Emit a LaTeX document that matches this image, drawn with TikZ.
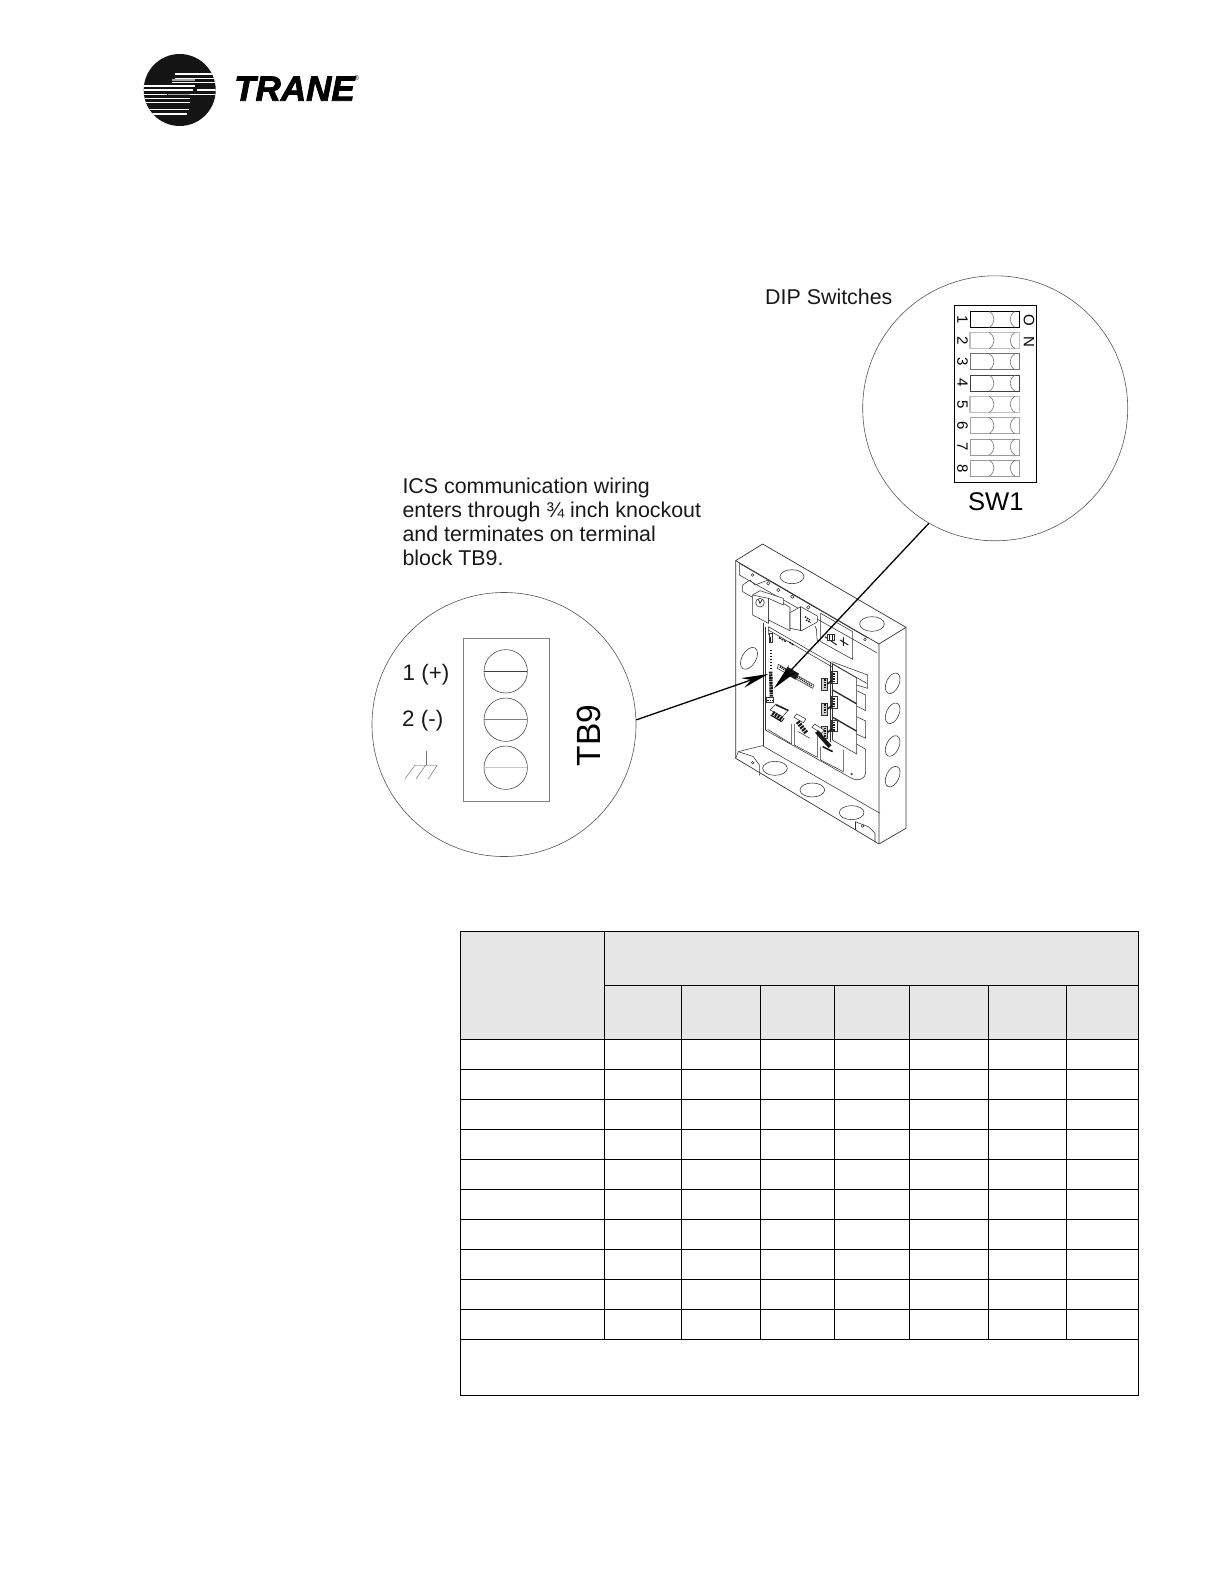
\documentclass[tikz,border=0pt]{standalone}
\usepackage{fontspec}
\setmainfont{Liberation Sans}
\newfontfamily\tranefont[BoldItalicFeatures={FakeBold=2.2}]{Liberation Sans}
\usetikzlibrary{arrows.meta}
\definecolor{hdr}{HTML}{E6E6E6}
\definecolor{thinc}{HTML}{555555}
\tikzset{
  txt/.style={inner sep=0pt,anchor=base west,font=\fontsize{21.4pt}{24pt}\selectfont,text=black!90},
  zoomc/.style={circle,draw=thinc,line width=0.6pt,minimum size=#1,inner sep=0pt},
  callout/.style={line width=1.3pt,-{Stealth[length=27pt,width=10pt]}},
  tline/.style={line width=1.3pt,black},
  wire/.style={line width=0.55pt,black!80},
  dark/.style={line width=1.6pt,black!90},
  screwc/.style={draw=black!70,line width=0.6pt},
  swbox/.style={line width=0.6pt,draw=black!55},
  knock/.style={wire,fill=white},
}
\begin{document}
\begin{tikzpicture}[x=1pt,y=-1pt]
\useasboundingbox (0,0) rectangle (1224,1584);
% ---- logo
\fill[black!92] (179.7,90) circle (36);
\begin{scope}
\clip (179.7,90) circle (36);
\begin{scope}[shift={(140pt,-50pt)},x=0.3333pt,y=-0.3333pt]
\foreach \yy/\xa/\xb in {72/105/218,85/105/225,97/95/228,108/5/165,120/5/160,120/172/230,133/5/80,133/150/230,145/5/150,158/15/150,178/20/148,192/30/140}
  \draw[white,line width=1.5pt] (\xa,\yy) -- (\xb,\yy);
\draw[black!35,line width=1.6pt] (95,90) -- (165,90);
\draw[black!35,line width=1.6pt] (85,133) -- (150,133);
\end{scope}
\end{scope}
\node[inner sep=0pt,anchor=base west] (tranelogo) at (234,100.7) {\tranefont\fontsize{35pt}{35pt}\selectfont\bfseries\itshape TRANE};
\node[inner sep=0pt] (tranereg) at (356.5,78.5) {\fontsize{7pt}{7pt}\selectfont ®};
% ---- zoom circles
\node[zoomc=264pt] (tbcircle) at (504,724.5) {};
\node[zoomc=265pt] (swcircle) at (995.2,408.3) {};
% ---- labels
\node[txt] (diplabel) at (765,304.3) {DIP Switches};
\node[txt] (ics1) at (402.3,493.3) {ICS communication wiring};
\node[txt] (ics2) at (402.3,517.5) {enters through ¾ inch knockout};
\node[txt] (ics3) at (402.3,541.3) {and terminates on terminal};
\node[txt] (ics4) at (402.3,565.3) {block TB9.};
\node[txt,font=\fontsize{22.4pt}{24pt}\selectfont] (plus) at (402.5,680) {1 (+)};
\node[txt,font=\fontsize{22.4pt}{24pt}\selectfont] (minus) at (402,726.7) {2 (-)};
\node[inner sep=0pt,rotate=90,font=\fontsize{33.5pt}{34pt}\selectfont] (tbnine) at (589,735.5) {TB9};
\node[inner sep=0pt,font=\fontsize{25.6pt}{26pt}\selectfont] (swone) at (995.8,501.7) {SW1};
% ---- TB9 block
\draw[line width=0.8pt,black!50] (463.3,638.3) rectangle (549.3,801);
\foreach \cy/\col/\lw in {671.3/black!75/0.9pt,719.7/black!50/0.7pt,767.7/black!22/1.5pt}{
  \draw[screwc] (505.7,\cy) circle (21.7);
  \draw[draw=\col,line width=\lw] (484,\cy) -- (527.4,\cy);
}
\draw[black!55,line width=0.5pt] (426.7,751) -- (426.7,765);
\draw[black!25,line width=1pt] (415,765) -- (437.3,765);
\draw[black!55,line width=0.5pt] (415,765) -- (405,779) (425.7,765) -- (416,779) (437.3,765) -- (428.3,779);
% ---- DIP switch
\draw[line width=0.9pt,black] (954.3,305.3) rectangle (1036.7,482.3);
\foreach \n/\col/\lw in {1/black/0.9pt,2/black!25/1.2pt,3/black!55/0.7pt,4/black!75/0.7pt,5/black!25/1.2pt,6/black!35/0.9pt,7/black!40/0.7pt,8/black!40/0.7pt}{
  \pgfmathsetmacro{\yt}{311.3+(\n-1)*21.27}
  \draw[draw=\col,line width=\lw] (970,\yt) rectangle (1019.3,\yt+16);
  \draw[swbox] (989.3,\yt) .. controls (995.5,\yt+4) and (995.5,\yt+12) .. (989.3,\yt+16);
  \draw[swbox] (1015,\yt) .. controls (1008.5,\yt+4) and (1008.5,\yt+12) .. (1015,\yt+16);
  \node[inner sep=0pt,rotate=-90,font=\fontsize{15pt}{15pt}\selectfont] (dip\n) at (962.5,\yt+8) {\n};
}
\node[inner sep=0pt,rotate=-90,font=\fontsize{15pt}{15pt}\selectfont] (onlabel) at (1029,331) {O\hspace{10pt}N};
% ---- table
\fill[hdr] (460.7,931.3) rectangle (1138.3,1039.3);
\foreach \yy in {931.3,1039.3,1069.3,1099.3,1129.3,1159.3,1189.3,1219.3,1249.3,1279.3,1309.3,1339.3,1395.7}
  \draw[tline] (460.7,\yy) -- (1138.3,\yy);
\draw[tline] (604.4,985.3) -- (1138.3,985.3);
\draw[tline] (460.7,931.3) -- (460.7,1395.7);
\draw[tline] (1138.3,931.3) -- (1138.3,1395.7);
\draw[tline] (604.4,931.3) -- (604.4,1339.3);
\foreach \xx in {681.5,760.5,834.4,909.7,988.7,1066.3}
  \draw[tline] (\xx,985.3) -- (\xx,1339.3);
% ---- enclosure (coordinates in a 3x grid)
\begin{scope}[shift={(700pt,-520pt)},x=0.3333pt,y=-0.3333pt]
\draw[wire,line join=round,line width=0.7pt] (107,122) -- (188,72) -- (618,322) -- (618,925) -- (537,972) -- (107,715) -- cycle;
\draw[wire,line width=0.7pt] (107,122) -- (537,372) -- (618,322) (537,372) -- (537,972);
% top flange
\draw[wire] (118,130) -- (118,165) -- (530,398);
\draw[wire] (118,130) -- (505,355);
\draw[knock] (276,170) ellipse (36 and 21);
\draw[knock] (516,312) ellipse (37 and 22);
\draw[wire] (158,165) circle (4) (495,358) circle (4);
% left / back
\draw[wire] (190,310) -- (190,677) (196,322) -- (196,630);
\draw[knock,rotate around={-30:(147,415)}] (147,415) ellipse (21 and 36);
% bottom flanges
\draw[wire] (187,677) -- (540,880);
\draw[wire] (115,695) -- (187,677);
\draw[wire] (115,695) -- (107,715);
\draw[wire] (115,695) -- (160,710) -- (178,735) -- (178,767);
\draw[wire] (465,905) -- (505,920) -- (525,940) -- (525,966);
\draw[wire] (465,905) -- (465,930);
\draw[wire] (158,728) circle (4) (488,918) circle (4);
\draw[knock] (225,745) ellipse (37 and 21);
\draw[knock] (337,810) ellipse (37 and 21);
\draw[knock] (455,878) ellipse (37 and 21);
% right knockouts
\foreach \cy in {490,580,678,770}
  \draw[knock,rotate around={-25:(578,\cy)}] (578,\cy) ellipse (19 and 33);
% top components
\draw[wire] (128,195) -- (150,180) -- (165,195) -- (205,180) -- (240,200) -- (350,265);
\draw[wire] (128,195) -- (128,215) -- (158,232);
\draw[wire] (205,190) circle (5) (235,210) circle (5) (277,230) circle (5) (325,262) circle (5);
\draw[wire,fill=white] (158,225) -- (180,212) -- (250,235) -- (250,255) -- (205,235) -- (205,310) -- (158,285) -- cycle;
\draw[wire] (180,248) circle (13) (205,235) -- (158,225);
\draw[wire,line width=0.8pt] (175,238) -- (180,250) -- (187,238);
\draw[wire] (205,235) -- (205,310) (205,300) -- (270,332) -- (270,262) -- (250,250);
\draw[wire,fill=white] (270,278) -- (302,260) -- (352,288) -- (352,306) -- (305,332) -- (270,325) -- cycle;
\draw[wire] (302,260) -- (302,332);
\draw[dark,line width=1.4pt,dash pattern=on 1.5pt off 1pt] (315,290) -- (330,300) (318,300) -- (332,308);
\draw[wire] (345,318) .. controls (355,330) and (345,345) .. (355,370);
% small pcb
\draw[wire] (362,280) -- (458,335) -- (458,418) -- (362,365) -- cycle;
\draw[dark,line width=1pt] (375,350) -- (410,375) (420,360) -- (445,375) (430,352) -- (430,378);
\draw[wire,fill=white] (382,342) rectangle (402,362);
\draw[dark,line width=0.9pt] (388,345) -- (388,360) (396,345) -- (396,360);
% main board rails
\draw[wire] (205,320) -- (500,490) (205,330) -- (395,440) (205,320) -- (205,345);
\draw[wire] (390,425) -- (390,665);
% board small parts
\draw[wire] (208,340) rectangle (217,368);
\draw[dark,line width=1.1pt] (211,350) -- (211,366);
\draw[dark,line width=1.4pt,dash pattern=on 2pt off 1pt] (237,353) -- (258,365) (268,366) -- (282,376);
\draw[dark,line width=1.8pt,dash pattern=on 1.5pt off 1.5pt] (212,390) -- (212,450);
\draw[dark,line width=3.4pt,dash pattern=on 2pt off .6pt] (212,455) -- (214,530);
\draw[wire,fill=white] (200,532) rectangle (220,548);
\draw[dark,line width=.8pt,dash pattern=on 1.5pt off 1pt] (202,540) -- (218,540);
% long connector
\draw[wire] (235,433) -- (342,495) -- (338,505) -- (232,445) -- cycle;
\draw[dark,line width=2pt,dash pattern=on 1pt off 1pt] (240,440) -- (336,498);
\draw[dark,line width=7pt] (258,450) -- (292,470);
% right connectors
\foreach \dy in {0,75,145}{
  \draw[wire,fill=black!18] (365,475+\dy) rectangle (383,510+\dy);
  \draw[wire,fill=white] (395,455+\dy) rectangle (413,490+\dy);
  \draw[dark,line width=1.8pt,dash pattern=on 1.5pt off 1pt] (374,478+\dy) -- (374,507+\dy) (403,460+\dy) -- (403,487+\dy);
  \draw[dark,line width=1.4pt] (383,492+\dy) -- (397,480+\dy);
}
% right modules
\draw[wire] (397,432) -- (470,474) -- (470,702) -- (397,660);
\draw[wire] (397,432) -- (397,660);
\draw[wire] (397,508) -- (470,550) (397,511) -- (470,553);
\draw[wire] (397,590) -- (470,632) (397,593) -- (470,635);
\draw[wire] (395,425) -- (503,465) -- (503,505) -- (470,495);
\draw[wire] (470,512) -- (497,525) -- (497,572) -- (470,558);
\draw[wire] (470,590) -- (497,603) -- (497,655) -- (470,642);
\draw[wire] (470,672) -- (497,688) -- (497,755) .. controls (497,778) and (475,785) .. (455,775) -- (196,630);
\draw[wire] (455,762) circle (2.5);
% lower left ribbon blocks
\draw[wire] (275,672) -- (275,612) (283,675) -- (283,612) (283,675) -- (352,712) -- (352,640) (362,680) -- (362,720) -- (430,755) -- (430,690);
\draw[wire] (203,628) -- (275,672);
\draw[wire,fill=white] (210,570) -- (228,552) -- (265,570) -- (248,590) -- cycle;
\draw[dark,line width=4pt,dash pattern=on 2pt off 1pt] (218,578) -- (250,600);
\draw[dark,line width=1.2pt] (228,555) -- (265,572) (212,585) -- (245,605);
\draw[wire,fill=white] (282,592) -- (290,582) -- (318,597) -- (310,608) -- cycle;
\draw[dark,line width=4.5pt,dash pattern=on 2pt off 1pt] (293,605) -- (320,640);
\draw[wire] (295,635) -- (330,655);
\draw[wire,fill=white] (336,622) -- (345,613) -- (372,630) -- (365,640) -- cycle;
\draw[dark,line width=4pt] (350,635) -- (390,680);
\draw[dark,line width=1.5pt] (368,680) -- (398,695);
% arrow ends
\coordinate (tbtip) at (205,462);
\coordinate (swtip) at (222,505);
\end{scope}
% ---- callouts
\draw[callout] (tbcircle.2) -- (tbtip);
\draw[callout] (swcircle.240) -- (swtip);
\end{tikzpicture}
\end{document}
